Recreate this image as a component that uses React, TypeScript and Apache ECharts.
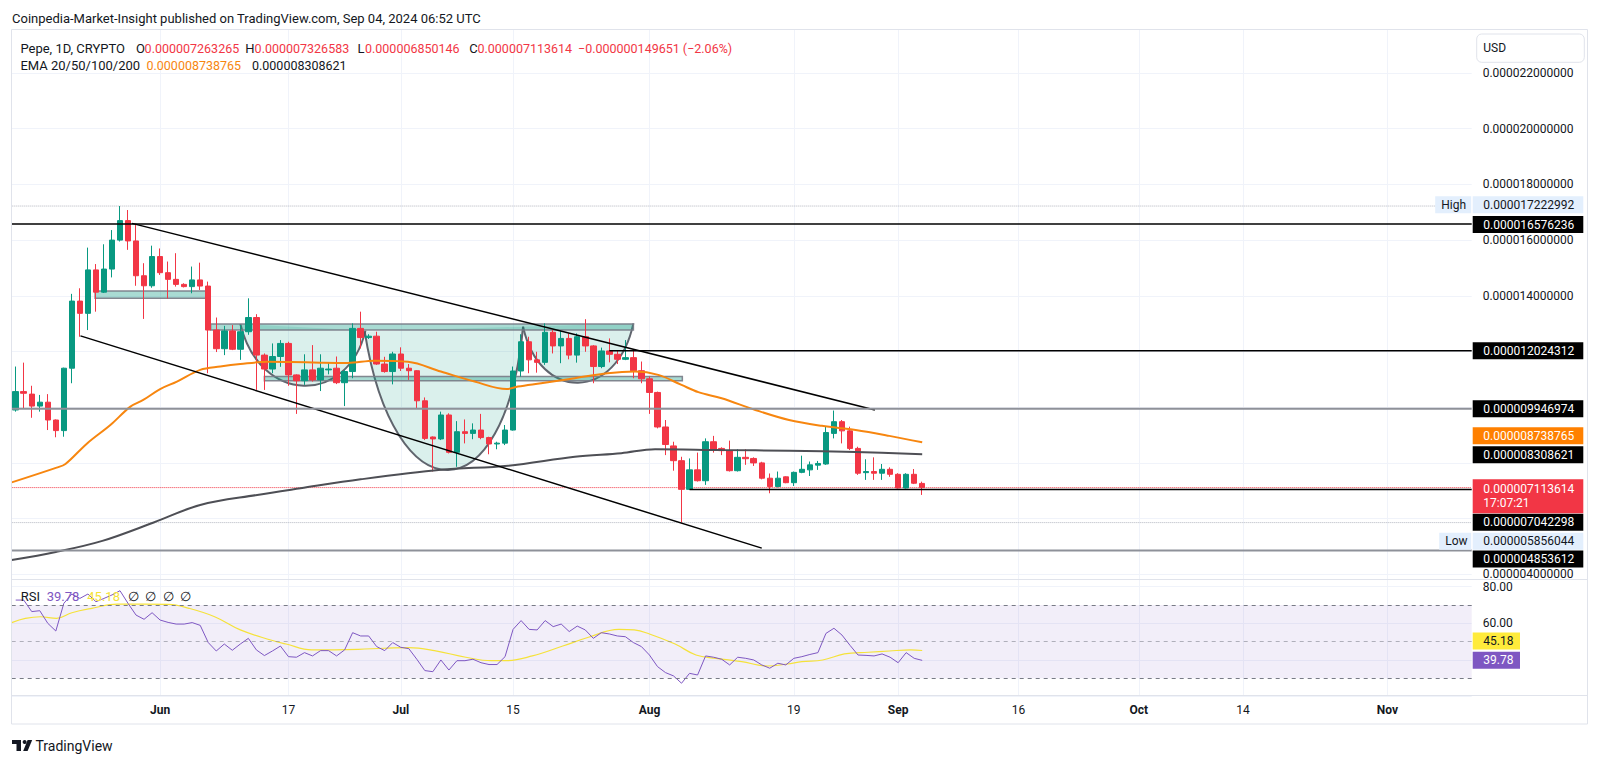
import React, { useEffect, useRef } from "react";
import * as echarts from "echarts";

const PRICE_UNIT = 1e-6;
const FONT = "Roboto, 'Noto Sans', sans-serif";

// ---- categories (daily, May 14 → Nov 11, 2024) ----
const START = Date.UTC(2024, 4, 14);
const DAYS = 182;
const dates: string[] = Array.from({ length: DAYS }, (_, i) =>
  new Date(START + i * 86400000).toISOString().slice(0, 10)
);
const timeTickLabels: Record<string, string> = {
  "2024-06-01": "Jun", "2024-06-17": "17", "2024-07-01": "Jul", "2024-07-15": "15",
  "2024-08-01": "Aug", "2024-08-19": "19", "2024-09-01": "Sep", "2024-09-16": "16",
  "2024-10-01": "Oct", "2024-10-14": "14", "2024-11-01": "Nov",
};
const monthNames = new Set(["Jun", "Jul", "Aug", "Sep", "Oct", "Nov"]);

// price-scale tick values that stay visible (the others sit under the badges)
const visiblePriceTicks = [4, 14, 16, 18, 20, 22];

// ---- OHLC (x 1e-6 USD) ----
const opens = [
  9.90, 10.56, 10.47, 10.04, 10.18, 9.54, 9.16, 11.40, 13.81, 13.37,
  14.93, 14.13, 14.96, 16.00, 16.70, 15.97, 14.72, 14.36, 15.41, 14.83,
  14.59, 14.41, 14.33, 14.57, 14.35, 12.77, 12.10, 12.74, 12.08, 12.71,
  13.22, 11.87, 11.37, 11.82, 12.29, 11.16, 10.95, 11.34, 10.98, 11.34,
  11.40, 10.88, 11.28, 12.83, 12.50, 12.55, 11.55, 11.28, 11.91, 11.40,
  11.31, 10.23, 8.93, 8.86, 9.72, 8.38, 9.12, 9.06, 9.18, 8.91,
  8.68, 8.71, 9.18, 11.30, 12.35, 11.70, 11.61, 12.69, 12.20, 12.47,
  11.87, 12.53, 12.20, 11.46, 12.02, 11.90, 11.72, 11.78, 11.31, 11.02,
  10.53, 9.29, 8.61, 8.08, 7.05, 7.75, 7.36, 8.76, 8.52, 8.44,
  7.72, 8.20, 8.16, 8.00, 7.45, 7.15, 7.50, 7.29, 7.66, 7.75,
  7.92, 7.96, 9.06, 9.48, 9.15, 8.52, 7.65, 7.69, 7.63, 7.77,
  7.59, 7.10, 7.59, 7.263265,
];
const highs = [
  11.46, 11.60, 10.77, 10.44, 10.47, 9.56, 11.42, 14.07, 14.27, 15.73,
  15.14, 15.85, 16.36, 17.222992, 17.08, 16.54, 15.17, 15.80, 15.70, 15.23,
  15.53, 14.45, 15.05, 15.19, 14.51, 13.22, 12.92, 12.95, 12.95, 13.91,
  13.34, 11.93, 12.29, 12.41, 12.35, 11.18, 11.90, 12.23, 11.90, 11.60,
  11.82, 11.33, 13.01, 13.43, 12.62, 12.71, 11.81, 11.99, 12.15, 11.55,
  11.33, 10.35, 8.95, 9.84, 9.78, 9.50, 9.56, 9.42, 9.76, 8.94,
  8.76, 9.36, 11.46, 12.62, 12.53, 11.99, 13.01, 12.77, 12.74, 12.65,
  12.65, 13.16, 12.23, 12.14, 12.47, 12.05, 12.41, 12.05, 11.64, 11.10,
  10.56, 9.54, 8.76, 8.22, 8.16, 8.37, 8.88, 8.97, 8.56, 8.80,
  8.49, 8.49, 8.20, 8.04, 7.62, 7.69, 7.52, 7.69, 8.26, 8.05,
  8.07, 9.30, 9.88, 9.54, 9.30, 8.58, 8.13, 8.20, 7.96, 7.84,
  7.63, 7.63, 7.78, 7.326583,
];
const lows = [
  9.84, 9.96, 9.62, 9.84, 9.18, 8.92, 8.94, 10.86, 12.53, 12.77,
  13.43, 14.10, 14.66, 15.95, 15.65, 14.36, 13.17, 14.29, 14.75, 13.90,
  14.33, 14.30, 14.09, 14.21, 11.22, 11.98, 11.87, 12.05, 11.70, 12.60,
  10.62, 10.62, 11.22, 11.45, 10.77, 9.76, 10.80, 10.92, 10.58, 11.18,
  10.83, 10.04, 11.04, 12.11, 12.45, 11.52, 11.24, 10.82, 11.30, 10.98,
  9.96, 8.82, 7.69, 8.82, 8.34, 7.86, 8.70, 8.85, 8.85, 8.31,
  8.49, 8.64, 9.16, 11.10, 11.22, 11.24, 11.52, 11.93, 11.58, 11.72,
  11.60, 11.99, 10.86, 11.40, 11.61, 11.55, 11.69, 11.04, 10.86, 9.76,
  9.24, 8.28, 7.72, 5.856044, 7.03, 7.33, 7.21, 8.37, 8.28, 7.69,
  7.69, 7.93, 7.89, 7.41, 6.91, 7.12, 7.27, 7.17, 7.63, 7.53,
  7.75, 7.93, 8.88, 8.70, 8.46, 7.57, 7.39, 7.39, 7.39, 7.50,
  7.08, 7.08, 7.24, 6.850146,
];
const closes = [
  10.56, 10.50, 10.04, 10.18, 9.54, 9.16, 11.40, 13.81, 13.37, 14.93,
  14.13, 14.96, 16.00, 16.70, 15.97, 14.72, 14.36, 15.41, 14.83, 14.59,
  14.41, 14.33, 14.57, 14.35, 12.77, 12.10, 12.74, 12.08, 12.71, 13.22,
  11.87, 11.37, 11.82, 12.29, 11.16, 10.95, 11.34, 10.98, 11.40, 11.37,
  10.88, 11.28, 12.83, 12.50, 12.55, 11.55, 11.28, 11.91, 11.40, 11.31,
  10.23, 8.88, 8.86, 9.72, 8.38, 9.12, 9.06, 9.18, 8.91, 8.68,
  8.71, 9.18, 11.30, 12.35, 11.70, 11.61, 12.69, 12.20, 12.47, 11.87,
  12.53, 12.20, 11.46, 12.02, 11.90, 11.72, 11.78, 11.31, 11.02, 10.53,
  9.29, 8.66, 8.08, 7.05, 7.75, 7.36, 8.76, 8.49, 8.44, 7.72,
  8.20, 8.15, 8.00, 7.45, 7.15, 7.45, 7.29, 7.66, 7.77, 7.93,
  7.98, 9.09, 9.48, 9.15, 8.52, 7.63, 7.69, 7.63, 7.77, 7.59,
  7.10, 7.59, 7.27, 7.113614,
];
const priceChange = "\u22120.000000149651 (\u22122.06%)";

// ---- EMA lines, read as [bar index, price x1e-6] ----
const ema50Points = [
  [-0.5, 7.30], [5.1, 7.83], [6.2, 7.96], [8.9, 8.70], [11.8, 9.36], [14.3, 10.02], [15.9, 10.26],
  [18.0, 10.65], [20.1, 10.92], [23.0, 11.34], [25.5, 11.46], [28.0, 11.55], [31.4, 11.63],
  [34.3, 11.62], [38.0, 11.60], [41.4, 11.59], [44.7, 11.67], [48.9, 11.63], [53.0, 11.28],
  [57.2, 10.92], [61.2, 10.65], [62.6, 10.74], [65.5, 10.86], [69.7, 11.04], [73.8, 11.22],
  [77.2, 11.28], [80.1, 11.16], [83.0, 10.80], [85.1, 10.54], [88.0, 10.32], [92.2, 9.90],
  [96.4, 9.54], [100.5, 9.33], [104.7, 9.18], [108.9, 8.97], [113, 8.738765],
];
const ema200Points = [
  [-0.5, 4.51], [5.0, 4.80], [10.8, 5.20], [17.2, 5.86], [23.0, 6.49], [30.1, 6.85],
  [35.5, 7.09], [43.0, 7.41], [53.0, 7.75], [61.4, 7.90], [69.7, 8.22], [75.5, 8.35],
  [79.7, 8.49], [88.0, 8.46], [96.4, 8.44], [104.7, 8.39], [113, 8.308621],
];

// ---- RSI (14) and its moving average ----
const rsiValues = [
  72.7, 72.7, 66.4, 66.9, 60.0, 55.8, 70.9, 76.0, 73.6, 76.0,
  71.8, 73.6, 75.5, 77.8, 70.9, 64.5, 62.2, 65.8, 61.8, 60.5,
  59.6, 59.6, 60.4, 58.9, 49.5, 44.9, 48.7, 45.3, 48.7, 51.8,
  45.5, 42.4, 44.9, 47.6, 41.8, 41.5, 44.0, 42.2, 45.1, 45.1,
  42.2, 45.5, 54.9, 53.1, 53.1, 47.3, 45.1, 49.5, 46.9, 46.2,
  40.4, 34.2, 33.6, 40.0, 34.5, 39.6, 39.6, 40.4, 38.5, 37.5,
  37.5, 41.8, 56.7, 61.5, 56.7, 56.4, 61.5, 58.2, 59.6, 55.5,
  58.5, 56.4, 51.8, 54.9, 54.2, 53.1, 52.7, 49.5, 47.3, 42.7,
  36.4, 33.1, 31.3, 27.3, 32.7, 31.8, 42.2, 41.5, 40.4, 37.3,
  41.5, 40.9, 40.0, 37.3, 35.5, 38.2, 37.3, 40.9, 41.8, 43.0,
  44.0, 54.5, 57.3, 53.6, 48.0, 42.7, 42.5, 42.2, 43.3, 41.5,
  38.5, 44.0, 40.9, 39.78,
];
const rsiMaPoints = [
  [-0.5, 60.4], [1.2, 62.7], [3.1, 63.6], [5.1, 62.7], [7.0, 65.8], [9.5, 68.2], [12.7, 70.5],
  [15.9, 70.5], [19.1, 70.4], [21.6, 68.2], [24.8, 63.6], [28.0, 56.4], [31.8, 50.9],
  [33.7, 48.7], [36.9, 45.5], [42.7, 45.8], [45.9, 46.4], [49.0, 46.7], [52.2, 45.1],
  [56.1, 41.5], [59.3, 39.6], [61.2, 39.6], [64.4, 42.2], [68.2, 47.6], [71.4, 52.4],
  [75.2, 56.7], [77.1, 56.4], [79.0, 54.2], [82.2, 48.7], [84.8, 42.7], [87.3, 40.9],
  [90.5, 39.1], [93.7, 36.7], [96.2, 37.8], [98.0, 39.1], [100.6, 40.0], [103.3, 43.3],
  [106.3, 44.2], [108.9, 44.9], [111.6, 45.5], [113, 45.18],
];

// ---- drawings (bar index, price x1e-6) ----
const trendLines = [
  { from: [14.5, 16.60], to: [107.1, 9.90] },
  { from: [8.07, 12.56], to: [93.0, 4.94] },
];
const levelLines = [
  { price: 16.576236, from: -0.5, kind: "black" },
  { price: 12.024312, from: 74, kind: "black" },
  { price: 9.946974, from: -0.5, kind: "grey" },
  { price: 7.042298, from: 84, kind: "black" },
  { price: 4.853612, from: -0.5, kind: "grey" },
  { price: 17.222992, from: -0.5, kind: "dotted" },
  { price: 5.856044, from: -0.5, kind: "dotted" },
  { price: 7.113614, from: -0.5, kind: "current" },
];
const zones = [
  { from: [9.9, 14.17], to: [23.75, 13.91] },
  { from: [24.3, 12.99], to: [77.0, 12.77] },
  { from: [31.0, 11.10], to: [83.1, 10.95] },
];
const cups = [
  { left: [28.0, 12.99], bottom: [35.9, 10.77], right: [43.6, 12.75] },
  { left: [43.5, 12.72], bottom: [53.9, 7.745], right: [63.25, 12.89] },
  { left: [63.25, 12.89], bottom: [70.1, 10.88], right: [77.0, 13.01] },
];

// ---- price-scale badges ----
const priceBadges = [
  { price: 16.576236, bg: "#000000", fg: "#ffffff", shift: 0.5 },
  { price: 12.024312, bg: "#000000", fg: "#ffffff", shift: 0 },
  { price: 9.946974, bg: "#000000", fg: "#ffffff", shift: 0 },
  { price: 8.738765, bg: "#FF8000", fg: "#ffffff", shift: -6.6 },
  { price: 8.308621, bg: "#000000", fg: "#ffffff", shift: 0.4 },
  { price: 7.042298, bg: "#000000", fg: "#ffffff", shift: 32.7 },
  { price: 4.853612, bg: "#000000", fg: "#ffffff", shift: 8.5 },
];
const tagBadges = [
  { tag: "High", price: 17.222992, shift: -1.3 },
  { tag: "Low", price: 5.856044, shift: 18.7 },
];
const currentPrice = { price: 7.113614, countdown: "17:07:21", shift: 1.7 };
const rsiBadges = [
  { value: 45.18, bg: "#FFEB3B", fg: "#131722", shift: -9.5 },
  { value: 39.78, bg: "#7E57C2", fg: "#ffffff", shift: 0 },
];

const fmt = (p: number) => (p * PRICE_UNIT).toFixed(12);

const UP = "#089981";
const DOWN = "#F23645";
const EMA_ORANGE = "#F7860F";

function buildOption(): any {
  const GL = 11.7;
  const GR = 128.3;
  const half = (1600 - GL - GR) / DAYS / 2;
  const hasLabel = (_i: number, v: string) => !!timeTickLabels[v];

  const series: any[] = [
    { type: "line", xAxisIndex: 0, yAxisIndex: 0, data: [], silent: true },
    {
      type: "custom",
      xAxisIndex: 2,
      yAxisIndex: 1,
      z: 1,
      silent: true,
      data: cups.map((c) => [c.left[0], c.left[1]]),
      renderItem: (params: any, api: any) => {
        const c = cups[params.dataIndex];
        const L = api.coord(c.left);
        const R = api.coord(c.right);
        const B = api.coord(c.bottom);
        const w = R[0] - L[0];
        const mid = (L[0] + R[0]) / 2;
        const dx = ((B[0] - mid) * 8) / 6;
        const yC = (8 * B[1] - L[1] - R[1]) / 6;
        const c1x = L[0] + 0.15 * w + dx;
        const c2x = R[0] - 0.15 * w + dx;
        const curve = `M${L[0]},${L[1]} C${c1x},${yC} ${c2x},${yC} ${R[0]},${R[1]}`;
        return {
          type: "group",
          children: [
            { type: "path", shape: { pathData: curve + " Z" }, style: { fill: "rgba(8,153,129,0.15)", stroke: "none" } },
            { type: "path", shape: { pathData: curve }, style: { fill: "none", stroke: "rgba(80,84,94,0.9)", lineWidth: 2 } },
          ],
        };
      },
    },
    {
      type: "custom",
      xAxisIndex: 2,
      yAxisIndex: 1,
      z: 1,
      silent: true,
      data: zones.map((r) => [r.from[0], r.from[1]]),
      renderItem: (params: any, api: any) => {
        const r = zones[params.dataIndex];
        const a = api.coord(r.from);
        const b = api.coord(r.to);
        return {
          type: "rect",
          shape: { x: a[0], y: a[1], width: b[0] - a[0], height: b[1] - a[1] },
          style: { fill: "rgba(8,153,129,0.35)", stroke: "rgba(120,123,134,0.9)", lineWidth: 1.5 },
        };
      },
    },
    {
      type: "candlestick",
      xAxisIndex: 1,
      yAxisIndex: 1,
      z: 3,
      barWidth: 6,
      silent: true,
      data: opens.map((o, i) => [o, closes[i], lows[i], highs[i]]),
      itemStyle: { color: UP, color0: DOWN, borderColor: UP, borderColor0: DOWN, borderWidth: 1 },
    },
    {
      type: "line",
      xAxisIndex: 2,
      yAxisIndex: 1,
      z: 4,
      data: ema50Points,
      smooth: 0.35,
      symbol: "none",
      silent: true,
      lineStyle: { color: EMA_ORANGE, width: 2 },
    },
    {
      type: "line",
      xAxisIndex: 2,
      yAxisIndex: 1,
      z: 4,
      data: ema200Points,
      smooth: 0.35,
      symbol: "none",
      silent: true,
      lineStyle: { color: "#4E4F55", width: 2 },
    },
  ];

  trendLines.forEach((t) => {
    series.push({
      type: "line",
      xAxisIndex: 2,
      yAxisIndex: 1,
      z: 5,
      data: [t.from, t.to],
      symbol: "none",
      silent: true,
      lineStyle: { color: "#000000", width: 1.5 },
    });
  });

  levelLines.forEach((l) => {
    const style: any =
      l.kind === "black"
        ? { color: "#000000", width: 1.5 }
        : l.kind === "grey"
        ? { color: "#8E9199", width: 2 }
        : l.kind === "dotted"
        ? { color: "#B2B5BE", width: 1, type: "dotted" }
        : { color: DOWN, width: 1, type: "dotted" };
    series.push({
      type: "line",
      xAxisIndex: 2,
      yAxisIndex: 1,
      z: l.kind === "dotted" || l.kind === "current" ? 2 : 5,
      data: [[l.from, l.price], [DAYS - 0.5, l.price]],
      symbol: "none",
      silent: true,
      lineStyle: style,
    });
  });

  series.push({
    type: "line",
    xAxisIndex: 3,
    yAxisIndex: 2,
    z: 4,
    data: rsiValues,
    symbol: "none",
    silent: true,
    lineStyle: { color: "#7E57C2", width: 1 },
    markArea: {
      silent: true,
      itemStyle: { color: "rgba(126,87,194,0.1)" },
      data: [[{ yAxis: 30 }, { yAxis: 70 }]],
    },
    markLine: {
      silent: true,
      symbol: ["none", "none"],
      label: { show: false },
      data: [
        { yAxis: 70, lineStyle: { color: "#787B86", type: [4, 4], width: 1 } },
        { yAxis: 50, lineStyle: { color: "rgba(120,123,134,0.55)", type: [4, 4], width: 1 } },
        { yAxis: 30, lineStyle: { color: "#787B86", type: [4, 4], width: 1 } },
      ],
    },
  });
  series.push({
    type: "line",
    xAxisIndex: 4,
    yAxisIndex: 2,
    z: 3,
    data: rsiMaPoints,
    smooth: 0.4,
    symbol: "none",
    silent: true,
    lineStyle: { color: "#F5E23A", width: 1.2 },
  });

  return {
    animation: false,
    backgroundColor: "#ffffff",
    grid: [
      { left: GL + half, right: GR + half, top: 29, bottom: 69 },
      { left: GL, right: GR, top: 73, bottom: 189.7 },
      { left: GL, right: GR, top: 586.7, bottom: 67.4 },
    ],
    xAxis: [
      {
        type: "category",
        gridIndex: 0,
        data: dates,
        boundaryGap: false,
        axisLine: { show: false },
        axisTick: { show: false },
        axisLabel: {
          interval: hasLabel,
          margin: 9,
          formatter: (v: string) => {
            const t = timeTickLabels[v];
            if (!t) return "";
            return monthNames.has(t) ? `{m|${t}}` : `{d|${t}}`;
          },
          rich: {
            m: { fontFamily: FONT, fontSize: 12, fontWeight: "bold", color: "#131722" },
            d: { fontFamily: FONT, fontSize: 12, color: "#131722" },
          },
        },
        splitLine: { show: true, interval: hasLabel, lineStyle: { color: "#F0F3FA", width: 1 } },
      },
      { type: "category", gridIndex: 1, data: dates, show: false },
      { type: "value", gridIndex: 1, min: -0.5, max: DAYS - 0.5, show: false },
      { type: "category", gridIndex: 2, data: dates, show: false },
      { type: "value", gridIndex: 2, min: -0.5, max: DAYS - 0.5, show: false },
    ],
    yAxis: [
      { type: "value", gridIndex: 0, min: 0, max: 1, show: false },
      {
        type: "value",
        gridIndex: 1,
        position: "right",
        min: 4,
        max: 22,
        interval: 2,
        axisLine: { show: false },
        axisTick: { show: false },
        axisLabel: {
          formatter: (v: number) => (visiblePriceTicks.includes(Math.round(v)) ? fmt(v) : ""),
          color: "#131722",
          fontSize: 12,
          fontFamily: FONT,
          margin: 11,
          align: "left",
          showMinLabel: true,
          showMaxLabel: true,
        },
        splitLine: { show: true, lineStyle: { color: "#F0F3FA", width: 1 } },
      },
      {
        type: "value",
        gridIndex: 2,
        position: "right",
        min: 20,
        max: 80,
        interval: 20,
        axisLine: { show: false },
        axisTick: { show: false },
        axisLabel: {
          formatter: (v: number) => (v === 80 || v === 60 ? v.toFixed(2) : ""),
          color: "#131722",
          fontSize: 12,
          fontFamily: FONT,
          margin: 11,
          align: "left",
        },
        splitLine: { show: true, lineStyle: { color: "#F0F3FA", width: 1 } },
      },
    ],
    series,
  };
}

function buildGraphics(chart: any): any[] {
  const py = (v: number) => chart.convertToPixel({ yAxisIndex: 1 }, v) as number;
  const ry = (v: number) => chart.convertToPixel({ yAxisIndex: 2 }, v) as number;
  const g: any[] = [];
  const txt = (x: number, y: number, s: string, fill: string, size = 12, weight = "normal", z = 100) => ({
    type: "text",
    x,
    y,
    z,
    silent: true,
    style: {
      text: s,
      fill,
      font: `${weight} ${size}px ${FONT}`,
      verticalAlign: "middle",
      textVerticalAlign: "middle",
    },
  });
  const rect = (x: number, y: number, w: number, h: number, fill: string, z = 99, extra: any = {}) => ({
    type: "rect",
    z,
    silent: true,
    shape: { x, y, width: w, height: h, ...(extra.r ? { r: extra.r } : {}) },
    style: { fill, stroke: extra.stroke || "none", lineWidth: extra.lineWidth || 0 },
  });
  const line = (x1: number, y1: number, x2: number, y2: number, color: string, z = 98) => ({
    type: "line",
    z,
    silent: true,
    shape: { x1, y1, x2, y2 },
    style: { stroke: color, lineWidth: 1 },
  });

  // frame & separators
  g.push({
    type: "rect",
    z: 97,
    silent: true,
    shape: { x: 11.5, y: 29.5, width: 1576, height: 694.5 },
    style: { fill: "none", stroke: "#E0E3EB", lineWidth: 1 },
  });
  g.push(line(11.5, 579.5, 1587.5, 579.5, "#E0E3EB"));
  g.push(line(11.5, 695.5, 1587.5, 695.5, "#E0E3EB"));

  // header
  g.push(txt(12, 18.3, "Coinpedia-Market-Insight published on TradingView.com, Sep 04, 2024 06:52 UTC", "#131722", 13));

  // legend line 1
  const red = DOWN;
  const VS = 12.5;
  g.push(txt(20.4, 48, "Pepe, 1D, CRYPTO", "#131722", 13));
  g.push(txt(135.9, 48, "O", "#131722", 13));
  g.push(txt(144.6, 48, fmt(opens[opens.length - 1]), red, VS));
  g.push(txt(245.2, 48, "H", "#131722", 13));
  g.push(txt(254.6, 48, fmt(highs[highs.length - 1]), red, VS));
  g.push(txt(357.4, 48, "L", "#131722", 13));
  g.push(txt(365, 48, fmt(lows[lows.length - 1]), red, VS));
  g.push(txt(469.2, 48, "C", "#131722", 13));
  g.push(txt(477.5, 48, fmt(closes[closes.length - 1]), red, VS));
  g.push(txt(578, 48, priceChange, red, VS));
  // legend line 2
  g.push(txt(20.4, 65.7, "EMA 20/50/100/200", "#131722", 13));
  g.push(txt(146.5, 65.7, fmt(ema50Points[ema50Points.length - 1][1]), EMA_ORANGE, VS));
  g.push(txt(252, 65.7, fmt(ema200Points[ema200Points.length - 1][1]), "#131722", VS));

  // USD box
  g.push(rect(1476.7, 34, 107.6, 28.3, "#ffffff", 99, { r: 5, stroke: "#E0E3EB", lineWidth: 1 }));
  g.push(txt(1483.3, 48.3, "USD", "#131722", 12));

  // price badges
  const BX = 1472.7;
  const BW = 110.6;
  const TX = 1483.3;
  priceBadges.forEach((b) => {
    const y = py(b.price) + b.shift;
    g.push(rect(BX, y - 8.5, BW, 17, b.bg));
    g.push(txt(TX, y, fmt(b.price), b.fg, 12, "normal", 101));
  });
  tagBadges.forEach((b) => {
    const y = py(b.price) + b.shift;
    const tagW = b.tag === "High" ? 36 : 32;
    g.push(rect(BX - 1.5 - tagW, y - 8.5, tagW, 17, "#E3EFFD"));
    g.push(txt(BX - 1.5 - tagW + 6, y, b.tag, "#131722", 12, "normal", 101));
    g.push(rect(BX, y - 8.5, BW, 17, "#E3EFFD"));
    g.push(txt(TX, y, fmt(b.price), "#131722", 12, "normal", 101));
  });
  {
    const y = py(currentPrice.price) + currentPrice.shift;
    g.push(rect(BX, y - 10, BW, 34, DOWN));
    g.push(txt(TX, y, fmt(currentPrice.price), "#ffffff", 12, "normal", 101));
    g.push(txt(TX, y + 14, currentPrice.countdown, "#ffffff", 12, "normal", 101));
  }

  // RSI legend
  g.push(txt(20.7, 596.7, "RSI", "#131722", 13));
  g.push(txt(46.7, 596.7, rsiValues[rsiValues.length - 1].toFixed(2), "#7E57C2", 13));
  g.push(txt(87.3, 596.7, rsiMaPoints[rsiMaPoints.length - 1][1].toFixed(2), "#F5E23A", 13));
  [128.3, 145, 162.7, 180].forEach((x) => g.push(txt(x, 596.7, "\u2205", "#131722", 13)));

  // RSI badges
  rsiBadges.forEach((b) => {
    const y = ry(b.value) + b.shift;
    g.push(rect(BX, y - 8.5, 47.3, 17, b.bg));
    g.push(txt(TX, y, b.value.toFixed(2), b.fg, 12, "normal", 101));
  });

  // TradingView logo
  const ink = "#131722";
  g.push(rect(12, 740, 9, 4, ink, 100));
  g.push(rect(16.5, 740, 4.5, 11, ink, 100));
  g.push({ type: "circle", z: 100, silent: true, shape: { cx: 24.6, cy: 742, r: 2 }, style: { fill: ink } });
  g.push({
    type: "polygon",
    z: 100,
    silent: true,
    shape: { points: [[27.6, 740], [32.2, 740], [27.6, 751], [23.2, 751]] },
    style: { fill: ink },
  });
  g.push(txt(35.5, 745.5, "TradingView", ink, 14));

  return g;
}

export default function App() {
  const ref = useRef<HTMLDivElement>(null);
  useEffect(() => {
    const el = ref.current;
    if (!el) return;
    document.body.style.margin = "0";
    const chart = echarts.init(el, null, { renderer: "svg" });
    chart.setOption(buildOption());
    chart.setOption({ graphic: buildGraphics(chart) });
    return () => chart.dispose();
  }, []);
  return (
    <div
      ref={ref}
      style={{ position: "fixed", left: 0, top: 0, width: 1600, height: 764, background: "#ffffff" }}
    />
  );
}
